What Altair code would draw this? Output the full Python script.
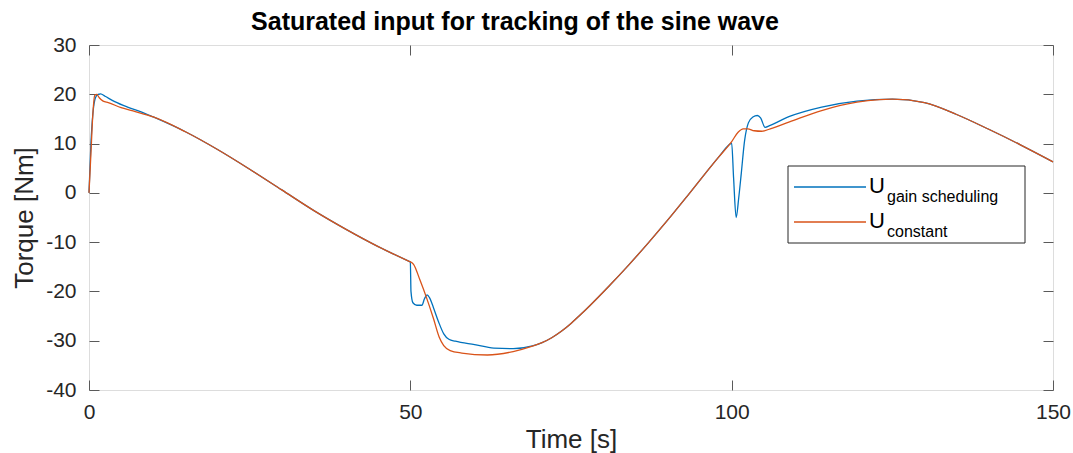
import altair as alt
import pandas as pd

# ---- data ----
t_gain = [0, 0.3, 0.6, 1.0, 1.4, 1.8, 2.5, 4, 6, 8, 10, 15, 20, 25, 30, 35, 40, 45, 49.9, 50,
          50.1, 50.4, 51, 51.8, 52.2, 52.6, 53.0, 53.6, 54.4, 55.2, 56, 57, 60, 63, 66, 69,
          70.5, 72, 73.5, 75, 76.5, 78, 81, 84, 87, 90, 93, 96, 98, 99.9, 100, 100.3, 100.7,
          101.1, 101.5, 102, 102.6, 103.3, 104, 104.5, 105.2, 106, 109, 114, 119.5, 125, 130,
          135, 140, 145, 150]
u_gain = [0, 10, 16, 19.3, 20, 20.1, 19.6, 18.5, 17.4, 16.5, 15.4, 12.4, 8.8, 4.8, 0.6, -3.6,
          -7.4, -10.9, -13.94, -14.0, -20, -22.3, -22.8, -22.8, -21.5, -20.7, -21.3, -23.3,
          -26.2, -28.6, -29.7, -30.1, -30.8, -31.5, -31.6, -31.05, -30.4, -29.4, -28.1, -26.5,
          -24.7, -22.8, -18.8, -14.6, -10.2, -5.6, -0.8, 4.1, 7.3, 10.05, 10.1, 3, -5, -1, 4,
          10.5, 14.2, 15.4, 15.7, 15.2, 13.3, 13.7, 15.5, 17.4, 18.6, 19.0, 18.3, 15.9, 12.9,
          9.7, 6.3]

t_const = [0, 0.3, 0.6, 0.9, 1.2, 1.6, 2.2, 3, 5, 7.2, 10, 15, 20, 25, 30, 35, 40, 45, 49.9, 50,
           50.5, 51.5, 52.5, 53.6, 54.5, 55.2, 56.2, 58, 62, 66, 69, 70.5, 72, 73.5, 75, 76.5,
           78, 81, 84, 87, 90, 93, 96, 98, 100, 101, 101.8, 102.5, 103.5, 104.7, 106, 109, 114,
           119.5, 123, 125, 130, 135, 140, 145, 150]
u_const = [0, 8, 16, 19.8, 20, 19.3, 18.6, 18.3, 17.3, 16.5, 15.4, 12.4, 8.8, 4.8, 0.6, -3.6,
           -7.4, -10.9, -13.94, -14.0, -14.5, -17.7, -21.2, -25.5, -29.3, -31.0, -32.0, -32.5,
           -32.9, -32.2, -31.1, -30.4, -29.4, -28.1, -26.5, -24.7, -22.8, -18.8, -14.6, -10.2,
           -5.6, -0.8, 4.1, 7.3, 10.4, 12.3, 13.0, 13.0, 12.6, 12.5, 13.0, 14.4, 16.7, 18.4,
           18.9, 19.0, 18.3, 15.9, 12.9, 9.7, 6.3]

x_ticks = [0, 50, 100, 150]
y_ticks = [-40, -30, -20, -10, 0, 10, 20, 30]

BLUE = "#0072BD"
RED = "#D95319"
AX = "#5a5a5a"
FONT = "Liberation Sans"
MINUS_FIX = "replace(datum.label, '\u2212', '-')"

df_g = pd.DataFrame({"t": t_gain, "u": u_gain})
df_c = pd.DataFrame({"t": t_const, "u": u_const})

xs = alt.Scale(domain=[0, 150], nice=False, zero=False)
ys = alt.Scale(domain=[-40, 30], nice=False, zero=False)

common = dict(offset=-10, tickSize=10, domain=False, grid=False, tickColor=AX,
              labelFlush=False, labelOverlap=False)
x_axis = alt.Axis(values=x_ticks, title="Time [s]", orient="bottom", labelPadding=11,
                  titlePadding=4, labelFontSize=21, titleFontSize=26, titleFontWeight="normal",
                  labelFont=FONT, titleFont=FONT, labelColor="#262626", titleColor="#262626",
                  labelExpr=MINUS_FIX, **common)
y_axis = alt.Axis(values=y_ticks, title="Torque [Nm]", orient="left", labelPadding=13,
                  titlePadding=8, labelFontSize=21, titleFontSize=26, titleFontWeight="normal",
                  labelFont=FONT, titleFont=FONT, labelColor="#262626", titleColor="#262626",
                  labelExpr=MINUS_FIX, **common)
x_top = alt.Axis(values=x_ticks, title=None, orient="top", labels=False, **common)
y_right = alt.Axis(values=y_ticks, title=None, orient="right", labels=False, **common)

line_g = alt.Chart(df_g).mark_line(color=BLUE, strokeWidth=1.3, interpolate="monotone").encode(
    x=alt.X("t:Q", scale=xs, axis=x_axis),
    y=alt.Y("u:Q", scale=ys, axis=y_axis),
)
line_c = alt.Chart(df_c).mark_line(color=RED, strokeWidth=1.3, interpolate="monotone").encode(
    x=alt.X("t:Q", scale=xs, axis=x_top),
    y=alt.Y("u:Q", scale=ys, axis=y_right),
)

one = alt.Data(values=[{}])
leg_box = alt.Chart(one).mark_rect(fill="white", stroke="#262626", strokeWidth=1).encode(
    x=alt.value(699), x2=alt.value(936), y=alt.value(121), y2=alt.value(198))
leg_l1 = alt.Chart(one).mark_rule(color=BLUE, strokeWidth=1.3).encode(
    x=alt.value(705), x2=alt.value(777), y=alt.value(142))
leg_l2 = alt.Chart(one).mark_rule(color=RED, strokeWidth=1.3).encode(
    x=alt.value(705), x2=alt.value(777), y=alt.value(177))
tkw = dict(font=FONT, color="#000000", align="left", baseline="alphabetic")
leg_u1 = alt.Chart(one).mark_text(text="U", fontSize=22, **tkw).encode(
    x=alt.value(780), y=alt.value(148))
leg_s1 = alt.Chart(one).mark_text(text="gain scheduling", fontSize=16, **tkw).encode(
    x=alt.value(798), y=alt.value(157))
leg_u2 = alt.Chart(one).mark_text(text="U", fontSize=22, **tkw).encode(
    x=alt.value(780), y=alt.value(183))
leg_s2 = alt.Chart(one).mark_text(text="constant", fontSize=16, **tkw).encode(
    x=alt.value(798), y=alt.value(192))

chart = alt.layer(line_g, line_c, leg_box, leg_l1, leg_l2, leg_u1, leg_s1, leg_u2, leg_s2).properties(
    width=964, height=345,
    title=alt.TitleParams("Saturated input for tracking of the sine wave", fontSize=25,
                          fontWeight="bold", font=FONT, anchor="middle", dx=-56, offset=-1,
                          color="#000000"),
    autosize=alt.AutoSizeParams(type="none"),
    padding={"left": 89, "top": 45, "right": 20, "bottom": 63},
).configure_view(stroke=AX, strokeWidth=1).configure(background="white")

chart.save("out.html", embed_options={"renderer": "svg", "actions": False})
